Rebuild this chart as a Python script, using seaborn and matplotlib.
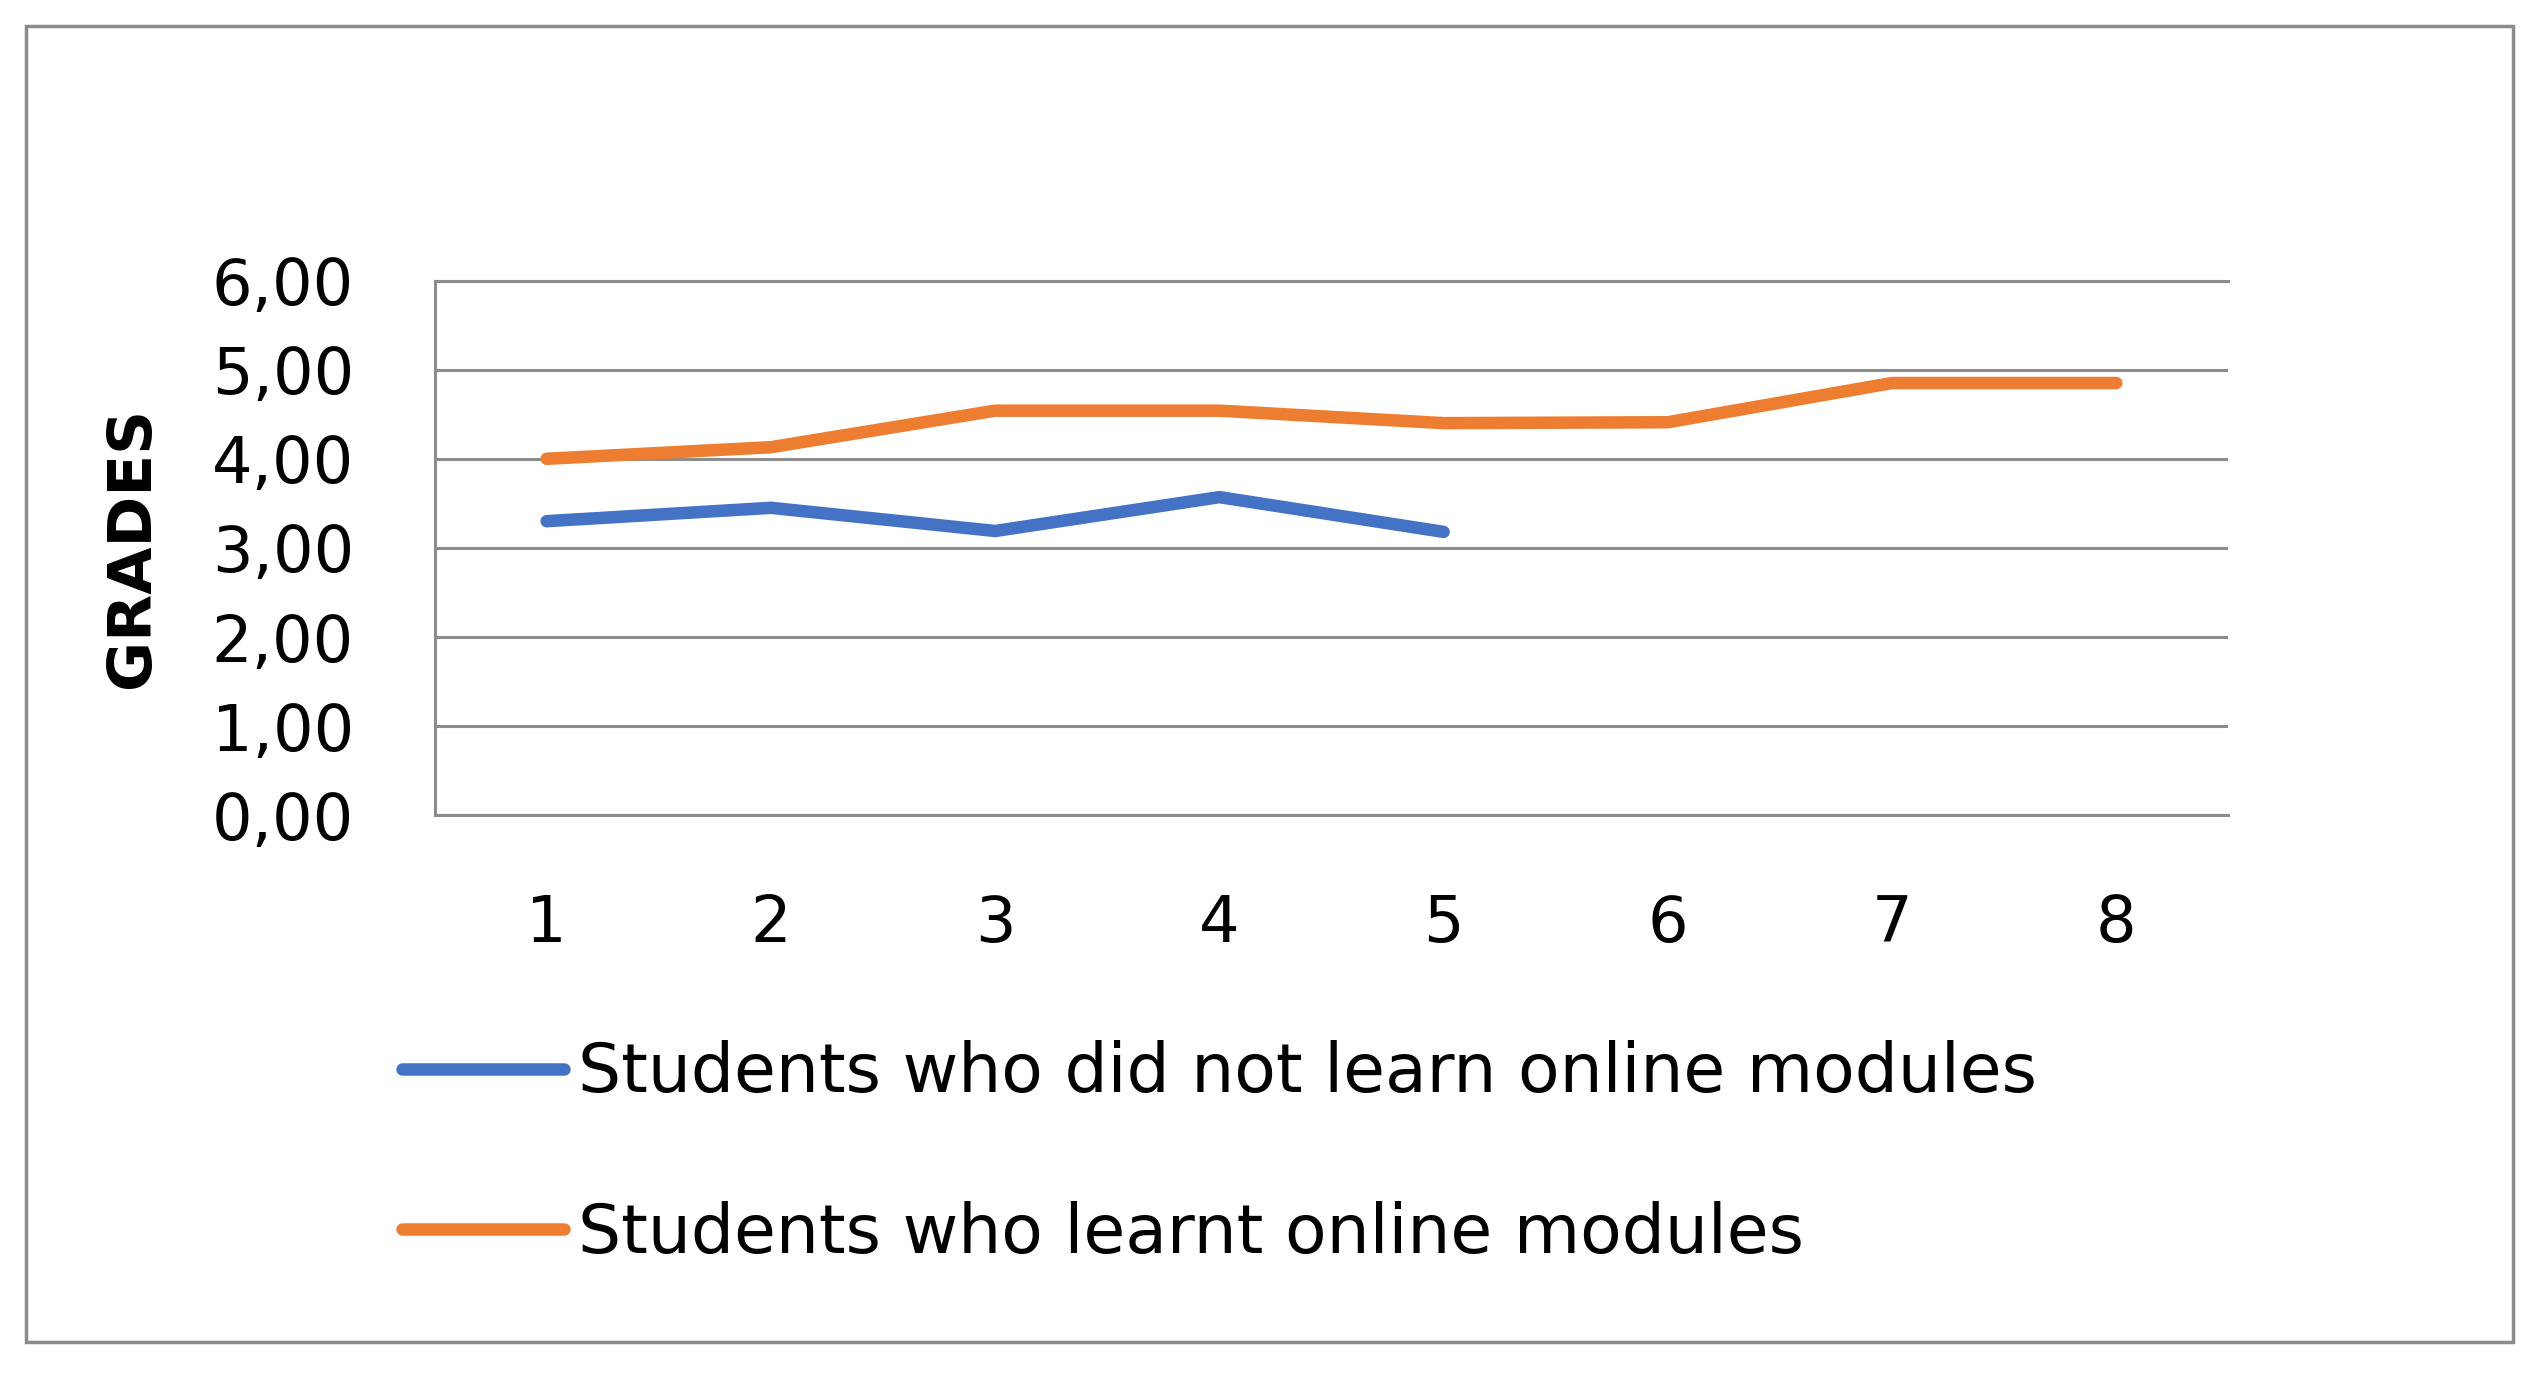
# grades line chart (online modules vs not)

import pandas as pd
import matplotlib
matplotlib.use("Agg")
import matplotlib.pyplot as plt
from matplotlib.patches import Rectangle
import seaborn as sns

# values
weeks_blue = [1, 2, 3, 4, 5]
grades_blue = [3.30, 3.45, 3.19, 3.57, 3.18]
weeks_orange = [1, 2, 3, 4, 5, 6, 7, 8]
grades_orange = [4.00, 4.13, 4.54, 4.54, 4.40, 4.41, 4.85, 4.85]

label_blue = "Students who did not learn online modules"
label_orange = "Students who learnt online modules"

x_ticks = [1, 2, 3, 4, 5, 6, 7, 8]
y_ticks = [0, 1, 2, 3, 4, 5, 6]
y_tick_labels = ["0,00", "1,00", "2,00", "3,00", "4,00", "5,00", "6,00"]

df = pd.concat([
    pd.DataFrame({"week": weeks_blue, "grade": grades_blue, "group": label_blue}),
    pd.DataFrame({"week": weeks_orange, "grade": grades_orange, "group": label_orange}),
], ignore_index=True)

sns.set_style("white")
plt.rcParams['font.family'] = ['DejaVu Sans']
plt.rcParams['text.color'] = 'black'

grid_col = "#8c8c8c"
palette = {label_blue: "#4472C4", label_orange: "#ED7D31"}

fig = plt.figure(figsize=(25.41, 13.75), dpi=100)
ax = fig.add_axes([0.171, 0.407, 0.706, 0.389])

sns.lineplot(data=df, x="week", y="grade", hue="group", palette=palette,
             linewidth=9, ax=ax, zorder=3, legend=True)

ax.set_xlim(0.5, 8.5)
ax.set_ylim(0, 6)
ax.set_xticks(x_ticks)
ax.set_xticklabels([str(t) for t in x_ticks])
ax.set_yticks(y_ticks)
ax.set_yticklabels(y_tick_labels)
ax.tick_params(axis='both', length=0, labelsize=46, colors="black")
ax.tick_params(axis='y', pad=58)
ax.tick_params(axis='x', pad=56)

ax.grid(axis='y', color=grid_col, linewidth=2.2, zorder=1)
ax.grid(axis='x', visible=False)
for side in ['left', 'top', 'bottom']:
    ax.spines[side].set_color(grid_col)
    ax.spines[side].set_linewidth(2.2)
ax.spines['right'].set_visible(False)

ax.set_xlabel("")
ax.set_ylabel("GRADES", fontsize=44, fontweight='bold', color='black')
ax.yaxis.set_label_coords(-0.152, 0.5)

handles, labels = ax.get_legend_handles_labels()
leg = ax.legend(handles, labels, loc='center left', frameon=False,
                bbox_to_anchor=(0.1582, 0.161), bbox_transform=fig.transFigure,
                fontsize=49, handlelength=2.38, handletextpad=0.2,
                labelspacing=1.39, borderpad=0, borderaxespad=0)
for line in leg.get_lines():
    line.set_linewidth(9)

# outer chart border
fig.patches.append(Rectangle((26 / 2541, 33 / 1375), (2513 - 26) / 2541, (1342 - 26) / 1375,
                             transform=fig.transFigure, fill=False,
                             edgecolor=grid_col, linewidth=2.5))

fig.savefig("out.png", dpi=100)
